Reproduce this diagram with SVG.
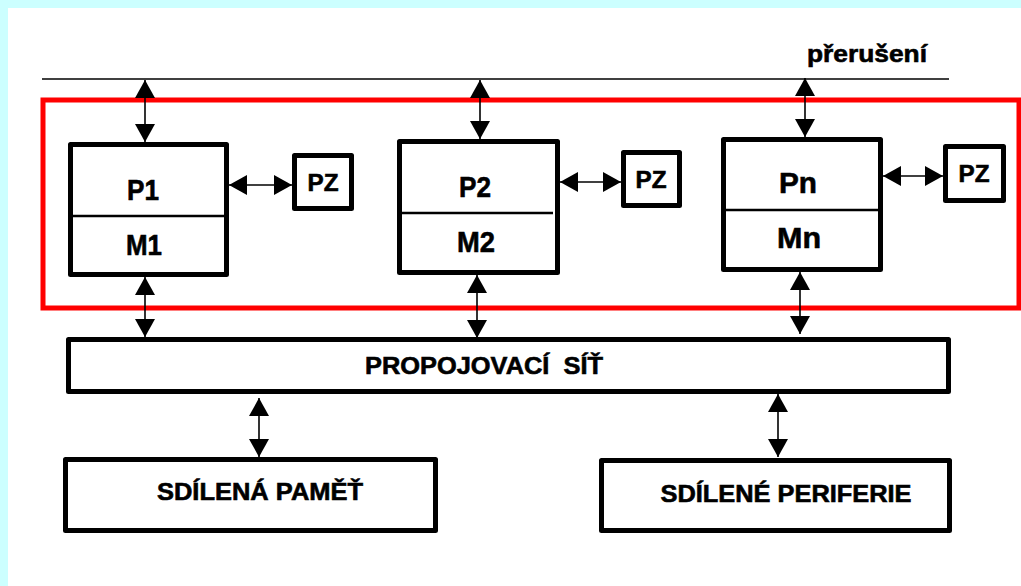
<svg xmlns="http://www.w3.org/2000/svg" width="1021" height="586" viewBox="0 0 1021 586">
<style>
.box{fill:#fff;stroke:#000;stroke-width:5;stroke-linejoin:round}
.div{stroke:#000;stroke-width:2.5}
.t{font-family:"Liberation Sans",Arial,sans-serif;font-weight:bold;fill:#000;stroke:#000;stroke-width:0.6;text-anchor:middle}
.big{font-size:30px}
.pz{font-size:24px}
.lab{font-size:24px}
.con{stroke:#000;stroke-width:1.6;fill:none;marker-start:url(#ah);marker-end:url(#ah)}
</style>
<defs>
<marker id="ah" markerUnits="userSpaceOnUse" viewBox="0 0 18 20" refX="18" refY="10" markerWidth="18" markerHeight="20" orient="auto-start-reverse">
<path d="M0,0 L18,10 L0,20 z" fill="#000"/>
</marker>
</defs>
<rect x="0" y="0" width="1021" height="586" fill="#CCFFFF"/>
<rect x="8" y="8" width="1013" height="578" fill="#fff"/>
<g id="bus">
<line x1="42" y1="79" x2="949" y2="79" stroke="#000" stroke-width="1.6"/>
<text class="t" x="807" y="62" font-size="24" style="text-anchor:start" textLength="120" lengthAdjust="spacingAndGlyphs">přerušení</text>
</g>
<g id="frame">
<rect x="43" y="100" width="976" height="208" fill="none" stroke="#FF0000" stroke-width="5"/>
</g>
<g id="connectors">
<line class="con" x1="145" y1="80" x2="145" y2="142"/>
<line class="con" x1="480" y1="80" x2="480" y2="139"/>
<line class="con" x1="805" y1="78" x2="805" y2="137"/>
<line class="con" x1="229" y1="185" x2="292" y2="185"/>
<line class="con" x1="560" y1="182" x2="621" y2="182"/>
<line class="con" x1="883" y1="176" x2="943" y2="176"/>
<line class="con" x1="145" y1="277" x2="145" y2="337"/>
<line class="con" x1="477" y1="275" x2="477" y2="338"/>
<line class="con" x1="800" y1="272" x2="800" y2="334"/>
<line class="con" x1="259" y1="398" x2="259" y2="457"/>
<line class="con" x1="778" y1="394" x2="778" y2="457"/>
</g>
<g id="node-p1">
<rect class="box" x="70.5" y="144.5" width="156" height="130"/>
<line class="div" x1="71" y1="216" x2="226" y2="216"/>
<text class="t big" x="143" y="200" textLength="32" lengthAdjust="spacingAndGlyphs">P1</text>
<text class="t big" x="144" y="255" textLength="36" lengthAdjust="spacingAndGlyphs">M1</text>
</g>
<g id="node-pz1">
<rect class="box" x="294.5" y="155.5" width="57" height="53"/>
<text class="t pz" x="323" y="191" textLength="31" lengthAdjust="spacingAndGlyphs">PZ</text>
</g>
<g id="node-p2">
<rect class="box" x="399.5" y="141.5" width="158" height="131"/>
<line class="div" x1="400" y1="213" x2="553" y2="213"/>
<text class="t big" x="475" y="197" textLength="32" lengthAdjust="spacingAndGlyphs">P2</text>
<text class="t big" x="476" y="252" textLength="38" lengthAdjust="spacingAndGlyphs">M2</text>
</g>
<g id="node-pz2">
<rect class="box" x="623.5" y="152.5" width="56" height="53"/>
<text class="t pz" x="651" y="188" textLength="31" lengthAdjust="spacingAndGlyphs">PZ</text>
</g>
<g id="node-pn">
<rect class="box" x="723.5" y="139.5" width="157" height="130"/>
<line class="div" x1="724" y1="210" x2="880" y2="210"/>
<text class="t big" x="798" y="193" textLength="38" lengthAdjust="spacingAndGlyphs">Pn</text>
<text class="t big" x="799" y="248" textLength="44" lengthAdjust="spacingAndGlyphs">Mn</text>
</g>
<g id="node-pzn">
<rect class="box" x="945.5" y="146.5" width="58" height="54"/>
<text class="t pz" x="974" y="182" textLength="31" lengthAdjust="spacingAndGlyphs">PZ</text>
</g>
<g id="node-sit">
<rect class="box" x="68.5" y="339.5" width="880" height="52"/>
<text class="t lab" x="484" y="374" textLength="238" lengthAdjust="spacingAndGlyphs" xml:space="preserve">PROPOJOVACÍ  SÍŤ</text>
</g>
<g id="node-pamet">
<rect class="box" x="65.5" y="459.5" width="370" height="71"/>
<text class="t lab" x="260" y="500" textLength="206" lengthAdjust="spacingAndGlyphs">SDÍLENÁ PAMĚŤ</text>
</g>
<g id="node-periferie">
<rect class="box" x="601.5" y="460.5" width="348" height="70"/>
<text class="t lab" x="786" y="502" textLength="251" lengthAdjust="spacingAndGlyphs">SDÍLENÉ PERIFERIE</text>
</g>
</svg>
